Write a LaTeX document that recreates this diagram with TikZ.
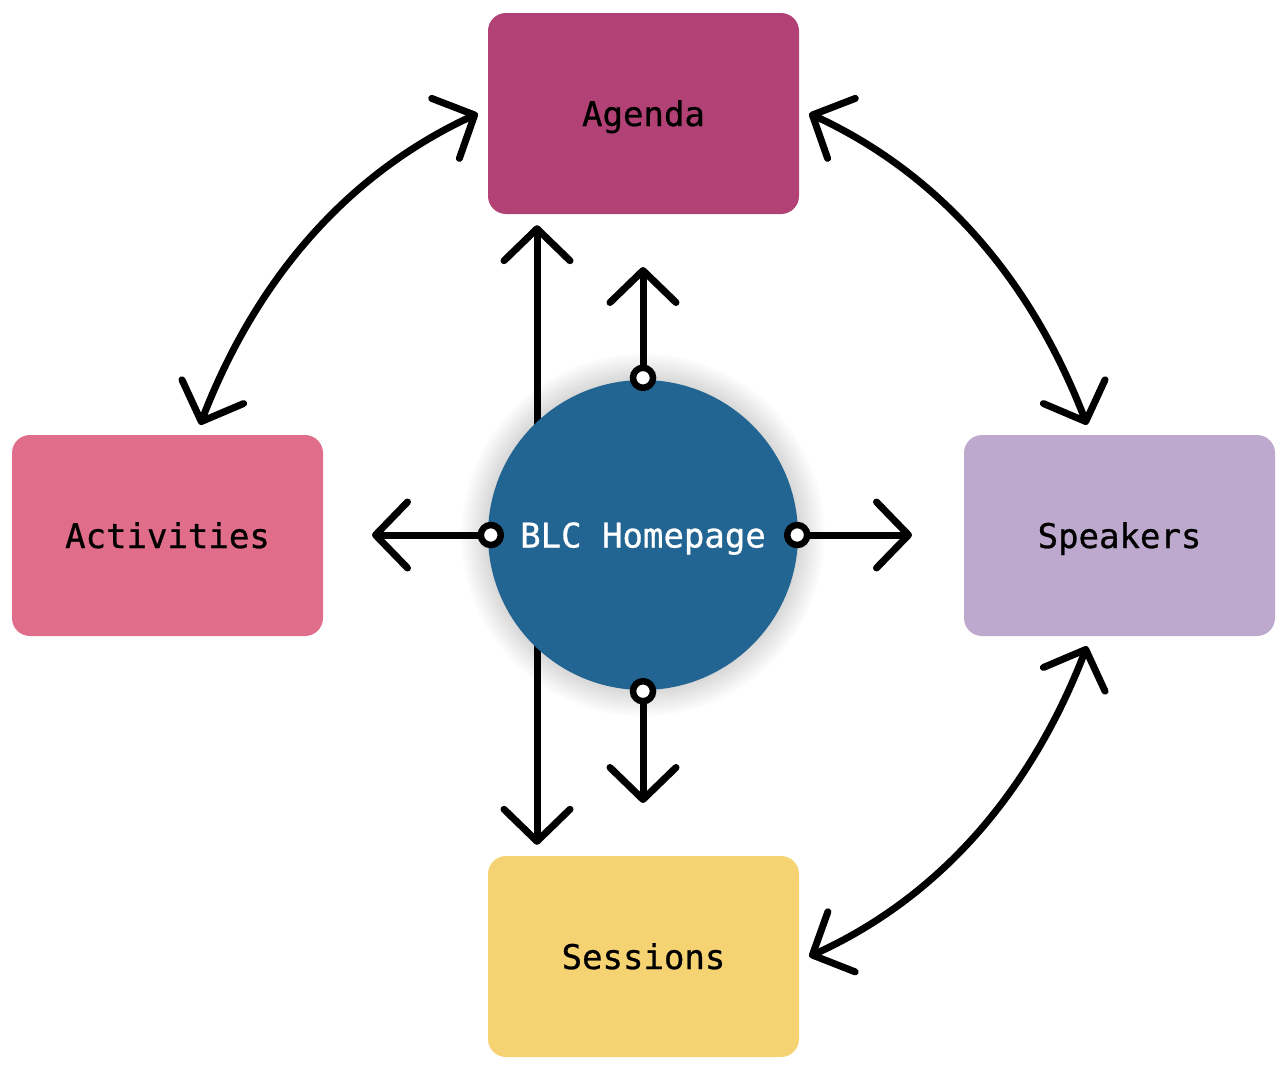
\documentclass[tikz,border=0pt]{standalone}
\usepackage{fontspec}
\newfontfamily\labelfont{DejaVu Sans Mono}[FakeBold=0.8]
\usepackage{xcolor}
\usetikzlibrary{arrows.meta}

\definecolor{agendacol}{RGB}{178,66,118}
\definecolor{activcol}{RGB}{224,109,138}
\definecolor{speakcol}{RGB}{189,169,205}
\definecolor{sesscol}{RGB}{245,211,114}
\definecolor{hubcol}{RGB}{34,100,146}

\tikzset{
  page/.style={draw=none, rounded corners=18pt, minimum width=311pt, minimum height=201pt,
    inner sep=0pt, text height=25pt, text depth=0pt,
    font=\labelfont\fontsize{34}{40}\selectfont, text=black},
  hubnode/.style={circle, fill=hubcol, minimum size=310pt, inner sep=0pt,
    text height=25pt, text depth=0pt,
    font=\labelfont\fontsize{34}{40}\selectfont, text=white},
  port/.style={circle, draw=black, fill=white, line width=6.5pt, minimum size=20pt, inner sep=0pt},
  link/.style={line width=7pt, line cap=round, black},
}

\begin{document}
\begin{tikzpicture}[x=1pt,y=-1pt,>={Straight Barb[length=32pt,width=66pt,round]}]
    \useasboundingbox (0,0) rectangle (1287,1071);

    \node[page, fill=agendacol] (agenda) at (643.5,113.5) {Agenda};
    \node[page, fill=activcol] (activities) at (167.5,535.5) {Activities};
    \node[page, fill=speakcol] (speakers) at (1119.5,535.5) {Speakers};
    \node[page, fill=sesscol] (sessions) at (643.5,956.5) {Sessions};

    % long line behind the homepage
    \draw[link,<->] ([xshift=-106.5pt,yshift=-11pt]agenda.south) -- ([xshift=-106.5pt,yshift=11pt]sessions.north);

    % soft shadow
    \foreach \r in {1,...,20}
        \fill[black, opacity=0.006] (643,535) circle (154+1.4*\r);

    \node[hubnode] (hub) at (643,535) {BLC Homepage};

    \node[port] (pn) at ([yshift=2pt]hub.north) {};
    \node[port] (pw) at ([xshift=3pt]hub.west) {};
    \node[port] (pe) at ([xshift=-1pt]hub.east) {};
    \node[port] (ps) at ([yshift=-1pt]hub.south) {};

    \coordinate (upend) at (643,267);
    \coordinate (leftend) at (372,535);
    \coordinate (rightend) at (912,535);
    \coordinate (downend) at (643,803);

    \draw[link,->] (pn) -- (upend);
    \draw[link,->] (pw) -- (leftend);
    \draw[link,->] (pe) -- (rightend);
    \draw[link,->] (ps) -- (downend);

    % curved links between the pages
    \draw[link,<->] ([xshift=-10pt]agenda.west) .. controls (349,173) and (257,277) .. ([xshift=32.5pt,yshift=10pt]activities.north);
    \draw[link,<->] ([xshift=10pt]agenda.east) .. controls (938,173) and (1030,277) .. ([xshift=-32.5pt,yshift=10pt]speakers.north);
    \draw[link,<->] ([xshift=-32.5pt,yshift=-10pt]speakers.south) .. controls (1030,794) and (938,898) .. ([xshift=10pt]sessions.east);
\end{tikzpicture}
\end{document}
